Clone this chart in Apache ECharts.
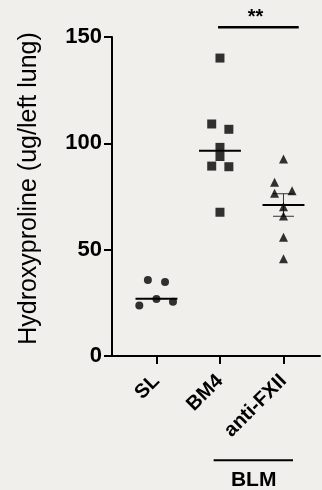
<!DOCTYPE html>
<html>
<head>
<meta charset="utf-8">
<script src="https://cdn.jsdelivr.net/npm/echarts@6/dist/echarts.min.js"></script>
<style>
html,body{margin:0;padding:0;background:#f0efeb;}
#chart{width:322px;height:490px;}
</style>
</head>
<body>
<div id="chart"></div>
<script>
// ---- data ----
const categories = ['SL', 'BM4', 'anti-FXII'];
const slValues = [35.7, 34.8, 26.8, 23.7, 25.5];
const bm4Values = [140.1, 109.1, 106.6, 98.1, 93.8, 89.3, 89.0, 67.6];
const fxiiValues = [92.6, 81.7, 77.7, 76.5, 70.2, 65.8, 55.8, 45.7];
const centerValues = [26.9, 96.5, 71.0];   // horizontal line per group
const errorValues = [0, 0, 5.3];           // visible error bar (SEM)
const yTicks = [0, 50, 100, 150];
const yTitle = 'Hydroxyproline (ug/left lung)';
const sigLabel = '**';
const groupLabel = 'BLM';

// horizontal scatter offsets (layout, in column units)
const slJitter = [-0.135, 0.135, 0, -0.27, 0.26];
const bm4Jitter = [0, -0.13, 0.14, 0, 0, -0.13, 0.14, 0];
const fxiiJitter = [0, -0.14, 0.135, -0.14, 0, 0, 0, 0];

const FONT = "'Liberation Sans', Arial, sans-serif";

function pts(vals, jit, pos) {
  return vals.map((v, i) => [pos + jit[i], v]);
}

const chart = echarts.init(document.getElementById('chart'), null, {renderer: 'canvas'});

const option = {
  backgroundColor: '#f0efeb',
  animation: false,
  grid: {left: 112, right: 2, top: 37, bottom: 134},
  xAxis: {
    type: 'value', min: 0.3, max: 3.575,
    splitLine: {show: false},
    axisLine: {show: true, onZero: false, lineStyle: {color: '#000', width: 2}},
    axisTick: {show: true, customValues: [1, 2, 3], length: 8, lineStyle: {color: '#000', width: 2}},
    axisLabel: {
      customValues: [1, 2, 3],
      formatter: v => categories[Math.round(v) - 1] || '',
      rotate: 45, fontSize: 20, fontWeight: 'bold', color: '#000', fontFamily: FONT, margin: 22
    }
  },
  yAxis: {
    type: 'value', min: yTicks[0], max: yTicks[yTicks.length - 1], interval: 50,
    splitLine: {show: false},
    axisLine: {show: true, lineStyle: {color: '#000', width: 2}},
    axisTick: {show: true, length: 8, lineStyle: {color: '#000', width: 2}},
    axisLabel: {fontSize: 22, fontWeight: 'bold', color: '#000', fontFamily: FONT, margin: 10},
    name: yTitle, nameLocation: 'middle', nameRotate: 90, nameGap: 70,
    nameTextStyle: {fontSize: 25, color: '#000', fontFamily: FONT, padding: [0, 0, 0, 16]}
  },
  series: [
    {
      type: 'custom', z: 1, clip: false,
      data: categories.map((c, i) => [i + 1, centerValues[i], errorValues[i]]),
      renderItem: function (params, api) {
        const x = api.value(0), m = api.value(1), e = api.value(2);
        const l = api.coord([x - 0.33, m]), r = api.coord([x + 0.33, m]);
        const children = [{
          type: 'line', shape: {x1: l[0], y1: l[1], x2: r[0], y2: r[1]},
          style: {stroke: '#000', lineWidth: 2}
        }];
        if (e > 0) {
          const t = api.coord([x, m + e]), b = api.coord([x, m - e]);
          const tl = api.coord([x - 0.165, m + e]), tr = api.coord([x + 0.165, m + e]);
          const bl = api.coord([x - 0.165, m - e]), br = api.coord([x + 0.165, m - e]);
          children.push({type: 'line', shape: {x1: t[0], y1: t[1], x2: b[0], y2: b[1]}, style: {stroke: '#333', lineWidth: 1}});
          children.push({type: 'line', shape: {x1: tl[0], y1: tl[1], x2: tr[0], y2: tr[1]}, style: {stroke: '#333', lineWidth: 1}});
          children.push({type: 'line', shape: {x1: bl[0], y1: bl[1], x2: br[0], y2: br[1]}, style: {stroke: '#333', lineWidth: 1}});
        }
        return {type: 'group', children};
      }
    },
    {type: 'scatter', z: 3, symbol: 'circle', symbolSize: 8, itemStyle: {color: '#000'}, data: pts(slValues, slJitter, 1)},
    {type: 'scatter', z: 3, symbol: 'rect', symbolSize: 9, itemStyle: {color: '#000'}, data: pts(bm4Values, bm4Jitter, 2)},
    {type: 'scatter', z: 3, symbol: 'triangle', symbolSize: 9, itemStyle: {color: '#000'}, data: pts(fxiiValues, fxiiJitter, 3)},
    {
      // annotations: significance bracket and group bar
      type: 'custom', z: 2, clip: false,
      data: [[0]],
      renderItem: function (params, api) {
        const s1 = api.coord([1.97, 154.6]), s2 = api.coord([3.24, 154.6]);
        const st = api.coord([2.56, 159.3]);
        const b1 = api.coord([1.90, -49]), b2 = api.coord([3.15, -49]);
        const bt = api.coord([2.53, -58.5]);
        return {type: 'group', children: [
          {type: 'line', shape: {x1: s1[0], y1: s1[1], x2: s2[0], y2: s2[1]}, style: {stroke: '#000', lineWidth: 2.5}},
          {type: 'text', x: st[0], y: st[1], style: {text: sigLabel, fontSize: 20, fontWeight: 'bold', fontFamily: FONT, fill: '#000', align: 'center', verticalAlign: 'middle'}},
          {type: 'line', shape: {x1: b1[0], y1: b1[1], x2: b2[0], y2: b2[1]}, style: {stroke: '#000', lineWidth: 2}},
          {type: 'text', x: bt[0], y: bt[1], style: {text: groupLabel, fontSize: 21, fontWeight: 'bold', fontFamily: FONT, fill: '#000', align: 'center', verticalAlign: 'middle'}}
        ]};
      }
    }
  ]
};
chart.setOption(option);
</script>
</body>
</html>
